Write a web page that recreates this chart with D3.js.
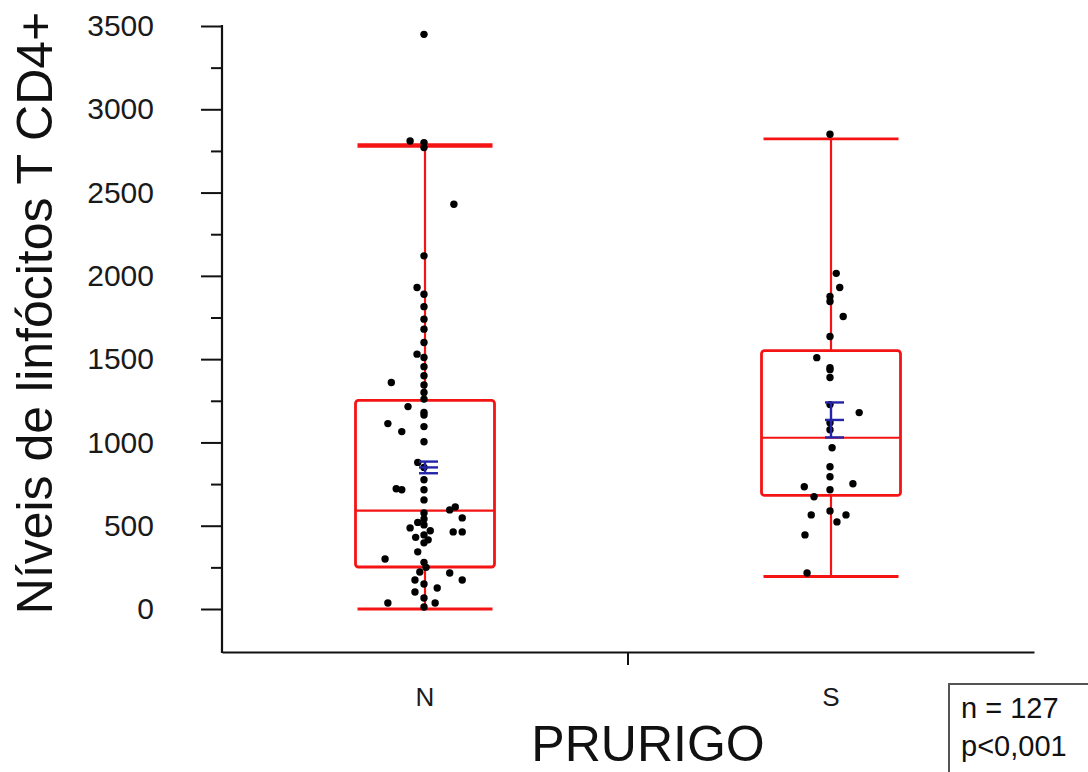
<!DOCTYPE html>
<html lang="en">
<head>
    <meta charset="utf-8" />
    <script src="https://d3js.org/d3.v7.min.js"></script>
    <style>
        body { margin: 0; background: #fff; }
        svg { display: block; font-family: "Liberation Sans", Arial, sans-serif; }
    </style>
</head>
<body>
<script>
    // groups on the x axis
    const groups = ["N", "S"];

    // box stats per group: [low whisker, Q1, median, Q3, high whisker]
    const boxStats = [
        [0, 252, 590, 1252, 2782],
        [195, 682, 1028, 1551, 2822]
    ];

    // mean and its confidence interval (blue marks)
    const means = [850, 1135];
    const ciLow = [815, 1030];
    const ciHigh = [885, 1240];

    // individual observations, jitter is in units of half a box width
    const nValues = [3450, 2810, 2800, 2770, 2430, 2120, 1930, 1890, 1815, 1740, 1680, 1600, 1530, 1510,
        1455, 1400, 1360, 1345, 1300, 1260, 1215, 1180, 1165, 1095, 1113, 1065, 1004, 880, 850, 776,
        716, 655, 722, 716, 613, 595, 577, 541, 520, 505, 487, 470, 463, 463, 547, 445, 430, 415,
        397, 343, 300, 280, 250, 222, 216, 174, 174, 150, 126, 102, 66, 36, 36, 12];
    const nJitter = [0, -0.2, 0, 0, 0.43, 0, -0.1, 0, 0, 0, 0, 0, -0.1, 0,
        0, 0, -0.47, 0, 0, 0, -0.23, 0, 0, 0, -0.52, -0.32, 0, -0.09, 0, 0,
        0, 0, -0.4, -0.32, 0.45, 0.37, 0, 0, -0.09, 0, -0.2, 0.09, 0.42, 0.55, 0.55, 0, -0.12, 0.06,
        0, -0.09, -0.56, 0, 0.03, -0.06, 0.37, -0.13, 0.55, 0, 0.19, -0.13, 0, -0.52, 0.16, 0];
    const sValues = [2850, 2015, 1930, 1876, 1846, 1756, 1636, 1509, 1449, 1437, 1390, 1227, 1179, 1118,
        1076, 968, 854, 794, 752, 734, 716, 674, 589, 565, 565, 523, 445, 216];
    const sJitter = [0, 0.09, 0.14, 0, 0, 0.19, 0, -0.19, 0, 0, 0, 0, 0.42, 0,
        0, 0.03, 0, 0, 0.33, -0.37, 0, -0.23, 0, -0.27, 0.23, 0.1, -0.36, -0.33];

    const yMajor = [0, 500, 1000, 1500, 2000, 2500, 3000, 3500];
    const yMinor = [250, 750, 1250, 1750, 2250, 2750, 3250];

    const yTitle = "Níveis de linfócitos T CD4+";
    const xTitle = "PRURIGO";
    const note = ["n = 127", "p<0,001"];

    const w = 1088;
    const h = 772;
    const axisX = 222;
    const axisY = 652;

    const svg = d3.select("body")
        .append("svg")
        .attr("width", w)
        .attr("height", h);

    const xScale = d3.scaleBand()
        .domain(groups)
        .range([axisX, 1034]);

    const yScale = d3.scaleLinear()
        .domain([0, 3500])
        .range([609, 26]);

    const half = 69.5;
    const red = "#f41414";

    // y axis: major ticks with labels, minor ticks shorter
    const yAxis = svg.append("g")
        .attr("transform", "translate(" + axisX + ",0)")
        .call(d3.axisLeft(yScale).tickValues(yMajor).tickSize(21).tickPadding(47).tickFormat(d3.format("d")));
    yAxis.select(".domain").remove();
    yAxis.selectAll("line").attr("stroke", "#111").attr("stroke-width", 2);
    yAxis.selectAll("text")
        .style("font-size", "30px")
        .attr("fill", "#1a1a1a");

    const yMinorAxis = svg.append("g")
        .attr("transform", "translate(" + axisX + ",0)")
        .call(d3.axisLeft(yScale).tickValues(yMinor).tickSize(11).tickFormat(""));
    yMinorAxis.select(".domain").remove();
    yMinorAxis.selectAll("line").attr("stroke", "#111").attr("stroke-width", 2);

    svg.append("line")
        .attr("x1", axisX).attr("x2", axisX)
        .attr("y1", yScale(3500) - 1).attr("y2", axisY + 1)
        .attr("stroke", "#111").attr("stroke-width", 2.2);

    // x axis
    const xAxis = svg.append("g")
        .attr("transform", "translate(0," + axisY + ")")
        .call(d3.axisBottom(xScale).tickSize(0).tickPadding(36));
    xAxis.select(".domain").attr("stroke", "#111").attr("stroke-width", 2.2);
    xAxis.selectAll("text")
        .style("font-size", "26px")
        .attr("fill", "#1a1a1a");

    svg.append("line")
        .attr("x1", xScale("S")).attr("x2", xScale("S"))
        .attr("y1", axisY).attr("y2", axisY + 13)
        .attr("stroke", "#111").attr("stroke-width", 2);

    // boxes
    groups.forEach((g, i) => {
        const c = xScale(g) + xScale.bandwidth() / 2;
        const s = boxStats[i];
        const box = svg.append("g");

        box.append("line")
            .attr("x1", c).attr("x2", c)
            .attr("y1", yScale(s[3])).attr("y2", yScale(s[4]))
            .attr("stroke", red).attr("stroke-width", 2.2);
        box.append("line")
            .attr("x1", c).attr("x2", c)
            .attr("y1", yScale(s[0])).attr("y2", yScale(s[1]))
            .attr("stroke", red).attr("stroke-width", 2.2);

        box.append("line")
            .attr("x1", c - half + 2).attr("x2", c + half - 2)
            .attr("y1", yScale(s[4])).attr("y2", yScale(s[4]))
            .attr("stroke", red).attr("stroke-width", i === 0 ? 4.5 : 2.8);
        box.append("line")
            .attr("x1", c - half + 2).attr("x2", c + half - 2)
            .attr("y1", yScale(s[0])).attr("y2", yScale(s[0]))
            .attr("stroke", red).attr("stroke-width", 2.8);

        box.append("rect")
            .attr("x", c - half).attr("width", half * 2)
            .attr("y", yScale(s[3])).attr("height", yScale(s[1]) - yScale(s[3]))
            .attr("rx", 3)
            .attr("fill", "none")
            .attr("stroke", red).attr("stroke-width", 2.8);

        box.append("line")
            .attr("x1", c - half).attr("x2", c + half)
            .attr("y1", yScale(s[2])).attr("y2", yScale(s[2]))
            .attr("stroke", red).attr("stroke-width", 2.2);
    });

    // points
    const pts = [];
    nValues.forEach((v, i) => pts.push({ g: "N", v: v, j: nJitter[i] }));
    sValues.forEach((v, i) => pts.push({ g: "S", v: v, j: sJitter[i] }));

    svg.selectAll("circle.dot")
        .data(pts)
        .enter()
        .append("circle")
        .attr("class", "dot")
        .attr("r", 3.7)
        .attr("cx", d => xScale(d.g) + xScale.bandwidth() / 2 - 1 + d.j * half)
        .attr("cy", d => yScale(d.v))
        .attr("fill", "#000");

    // mean with confidence interval
    const blue = "#2424a8";
    groups.forEach((g, i) => {
        const c = xScale(g) + xScale.bandwidth() / 2;
        const m = svg.append("g").attr("stroke", blue).attr("stroke-width", 2.4);
        m.append("line")
            .attr("x1", c).attr("x2", c)
            .attr("y1", yScale(ciHigh[i])).attr("y2", yScale(ciLow[i]));
        [ciHigh[i], means[i], ciLow[i]].forEach(v => {
            m.append("line")
                .attr("x1", c - 6).attr("x2", c + 13)
                .attr("y1", yScale(v)).attr("y2", yScale(v));
        });
    });

    // axis titles
    svg.append("text")
        .attr("transform", "translate(52," + 313 + ") rotate(-90)")
        .attr("text-anchor", "middle")
        .style("font-size", "50px")
        .attr("fill", "#111")
        .text(yTitle);

    svg.append("text")
        .attr("x", 648)
        .attr("y", 761)
        .attr("text-anchor", "middle")
        .style("font-size", "50px")
        .attr("fill", "#111")
        .text(xTitle);

    // n / p box
    svg.append("rect")
        .attr("x", 949).attr("y", 684)
        .attr("width", 150).attr("height", 100)
        .attr("fill", "#fff")
        .attr("stroke", "#555").attr("stroke-width", 2);

    svg.selectAll("text.note")
        .data(note)
        .enter()
        .append("text")
        .attr("class", "note")
        .attr("x", 961)
        .attr("y", (d, i) => 718 + i * 38)
        .style("font-size", "29px")
        .attr("fill", "#111")
        .text(d => d);
</script>
</body>
</html>
